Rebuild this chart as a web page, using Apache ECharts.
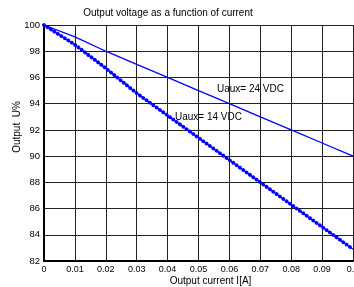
<!DOCTYPE html>
<html>
<head>
<meta charset="utf-8">
<script src="https://cdn.jsdelivr.net/npm/echarts@6/dist/echarts.min.js"></script>
<style>
  html, body { margin: 0; padding: 0; background: #fff; }
  #chart { width: 354px; height: 287px; }
</style>
</head>
<body>
<div id="chart"></div>
<script>
  // output current in A
  const current = [0, 0.01, 0.02, 0.03, 0.04, 0.05, 0.06, 0.07, 0.08, 0.09, 0.1];
  // output voltage in %
  const uaux24 = [100, 99.1, 98.0, 97.0, 96.0, 95.0, 94.0, 93.0, 92.0, 91.0, 90.0];
  const uaux14 = [100, 98.5, 96.7, 94.8, 93.1, 91.4, 89.7, 88.0, 86.3, 84.6, 82.9];
  const yTicks = [82, 84, 86, 88, 90, 92, 94, 96, 98, 100];

  const font = "Liberation Sans";
  const pairs = (ys) => current.map((x, i) => [x, ys[i]]);

  let chart = echarts.init(document.getElementById("chart"));
  let option = {
    animation: false,
    backgroundColor: "#ffffff",
    textStyle: { fontFamily: font },
    title: {
      text: "Output voltage as a function of current",
      left: 168,
      top: 8,
      padding: 0,
      textAlign: "center",
      textStyle: { fontSize: 10, fontWeight: "normal", color: "#000", fontFamily: font },
    },
    grid: { left: 44, right: 1, top: 25, bottom: 26, containLabel: false, outerBoundsMode: "none" },
    xAxis: {
      type: "value",
      min: 0,
      max: 0.1,
      interval: 0.01,
      axisLine: { show: true, onZero: false, lineStyle: { color: "#000", width: 2 } },
      axisTick: { show: false },
      axisLabel: { fontSize: 9, color: "#000", margin: 4, fontFamily: font, alignMaxLabel: "center", hideOverlap: false },
      splitLine: { show: true, lineStyle: { color: "#222", width: 1 } },
    },
    yAxis: {
      type: "value",
      min: yTicks[0],
      max: yTicks[yTicks.length - 1],
      interval: 2,
      axisLine: { show: true, lineStyle: { color: "#000", width: 2 } },
      axisTick: { show: false },
      axisLabel: { fontSize: 9.5, color: "#000", margin: 4, fontFamily: font },
      splitLine: { show: true, lineStyle: { color: "#222", width: 1 } },
    },
    graphic: [
      {
        type: "text", x: 17.5, y: 127, rotation: Math.PI / 2,
        style: { text: "Output  U%", font: "10px " + font, fill: "#000", align: "center", verticalAlign: "middle" },
      },
      {
        type: "text", x: 210.5, y: 281,
        style: { text: "Output current I[A]", font: "10px " + font, fill: "#000", align: "center", verticalAlign: "middle" },
      },
      {
        type: "text", x: 217, y: 89,
        style: { text: "Uaux= 24 VDC", font: "10px " + font, fill: "#000", align: "left", verticalAlign: "middle" },
      },
      {
        type: "text", x: 175, y: 117,
        style: { text: "Uaux= 14 VDC", font: "10px " + font, fill: "#000", align: "left", verticalAlign: "middle" },
      },
    ],
    series: [
      {
        name: "Uaux= 24 VDC",
        type: "line",
        data: pairs(uaux24),
        showSymbol: false,
        lineStyle: { color: "#0000ff", width: 1.3 },
        z: 3,
      },
      {
        name: "Uaux= 14 VDC",
        type: "line",
        data: pairs(uaux14),
        showSymbol: false,
        lineStyle: { color: "#0000ff", width: 1.2 },
        z: 3,
      },
      {
        // the dot markers along the 14 V curve
        name: "Uaux= 14 VDC dots",
        type: "line",
        data: pairs(uaux14),
        showSymbol: false,
        lineStyle: { color: "#0000ff", width: 3.8, type: [0.01, 4.1], cap: "round" },
        z: 4,
      },
    ],
  };
  chart.setOption(option);
</script>
</body>
</html>
